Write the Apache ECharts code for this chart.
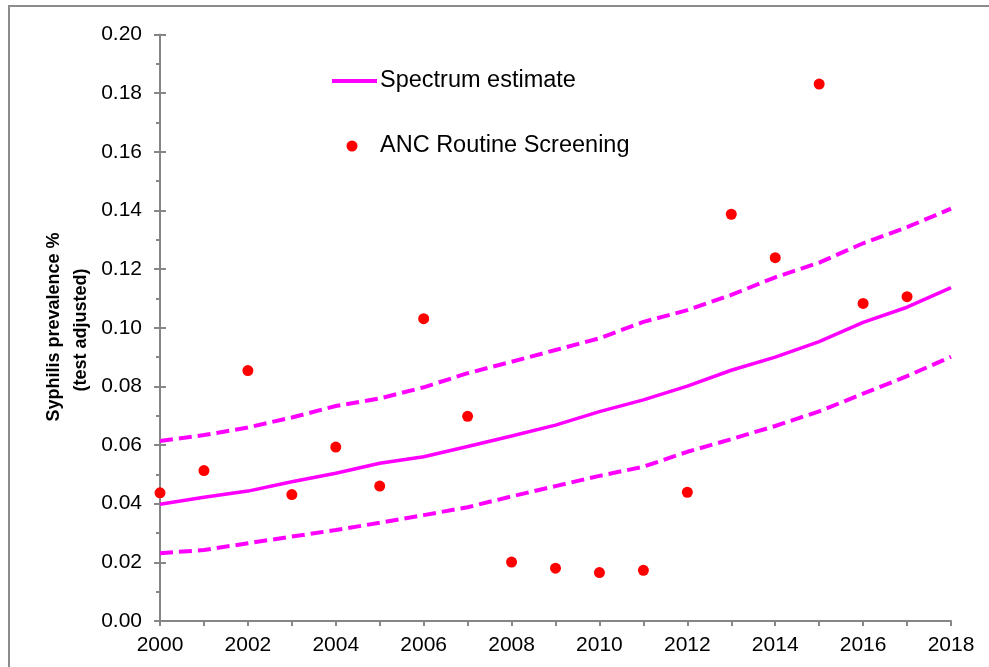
<!DOCTYPE html>
<html>
<head>
<meta charset="utf-8">
<script src="https://cdn.jsdelivr.net/npm/echarts@6/dist/echarts.min.js"></script>
<style>html,body{margin:0;padding:0;background:#fff}#c{width:989px;height:667px}</style>
</head>
<body>
<div id="c"></div>
<script>
// Data
const years = [2000,2001,2002,2003,2004,2005,2006,2007,2008,2009,2010,2011,2012,2013,2014,2015,2016,2017,2018];
const spectrumEstimate = [0.0398,0.0422,0.0443,0.0475,0.0504,0.0538,0.0560,0.0595,0.0631,0.0668,0.0714,0.0754,0.0801,0.0855,0.0900,0.0953,0.1018,0.1070,0.1137];
const upperBound = [0.0614,0.0634,0.0660,0.0694,0.0733,0.0759,0.0797,0.0845,0.0884,0.0924,0.0964,0.1020,0.1060,0.1112,0.1172,0.1222,0.1288,0.1343,0.1406];
const lowerBound = [0.0231,0.0242,0.0265,0.0288,0.0310,0.0335,0.0361,0.0388,0.0425,0.0460,0.0495,0.0526,0.0577,0.0620,0.0665,0.0715,0.0775,0.0835,0.0901];
const ancYears = [2000,2001,2002,2003,2004,2005,2006,2007,2008,2009,2010,2011,2012,2013,2014,2015,2016,2017];
const ancScreening = [0.0437,0.0513,0.0854,0.0431,0.0593,0.0460,0.1031,0.0698,0.0201,0.0180,0.0165,0.0173,0.0439,0.1387,0.1239,0.1831,0.1083,0.1106];
const legendLabels = ['Spectrum estimate','ANC Routine Screening'];
const yTitle = ['Syphilis prevalence %','(test adjusted)'];

const axisGray = '#868686';
const magenta = '#FF00FF';
const font = 'Liberation Sans, Arial, sans-serif';

const chart = echarts.init(document.getElementById('c'), null, {renderer:'canvas'});
const pair = (xs, ys) => xs.map((x,i)=>[x, ys[i]]);

chart.setOption({
  animation:false,
  backgroundColor:'#fff',
  grid:{left:160, right:38, top:34.5, bottom:46, containLabel:false},
  xAxis:{
    type:'value', min:2000, max:2018, interval:2,
    axisLine:{lineStyle:{color:axisGray, width:2}},
    axisTick:{show:true, length:5, lineStyle:{color:axisGray, width:2}},
    minorTick:{show:true, splitNumber:2, length:5, lineStyle:{color:axisGray, width:2}},
    splitLine:{show:false},
    axisLabel:{color:'#000', fontSize:21, fontFamily:font, margin:14, formatter:v=>String(v)}
  },
  yAxis:[{
    type:'value', min:0, max:0.2, interval:0.02, position:'left',
    axisLine:{show:true, lineStyle:{color:axisGray, width:2}},
    axisTick:{show:true, length:6, lineStyle:{color:axisGray, width:2}},
    minorTick:{show:true, splitNumber:2, length:4, lineStyle:{color:axisGray, width:2}},
    splitLine:{show:false},
    axisLabel:{color:'#000', fontSize:21, fontFamily:font, margin:18, formatter:v=>v.toFixed(2)}
  },{
    type:'value', min:0, max:0.2, interval:0.02, position:'left', offset:0,
    axisLine:{show:false},
    axisTick:{show:true, inside:true, length:6, lineStyle:{color:axisGray, width:2}},
    minorTick:{show:false},
    splitLine:{show:false},
    axisLabel:{show:false}
  }],
  series:[
    {name:'upper', type:'line', data:pair(years, upperBound), showSymbol:false, symbol:'none',
     lineStyle:{color:magenta, width:4, type:[13,6]}, z:2},
    {name:'lower', type:'line', data:pair(years, lowerBound), showSymbol:false, symbol:'none',
     lineStyle:{color:magenta, width:4, type:[13,6]}, z:2},
    {name:legendLabels[0], type:'line', data:pair(years, spectrumEstimate), showSymbol:false, symbol:'none',
     lineStyle:{color:magenta, width:3.5}, z:3},
    {name:legendLabels[1], type:'scatter', data:pair(ancYears, ancScreening), symbol:'circle', symbolSize:11,
     itemStyle:{color:'#FF0000', opacity:1}, z:4}
  ],
  graphic:[
    {type:'rect', shape:{x:9, y:6, width:1200, height:900}, style:{fill:null, stroke:'#8c8c8c', lineWidth:2}, z:0, silent:true},
    {type:'line', shape:{x1:332, y1:81, x2:377, y2:81}, style:{stroke:magenta, lineWidth:4}},
    {type:'text', x:380, y:81, style:{text:legendLabels[0], fontSize:23.5, fontFamily:font, fill:'#000', textVerticalAlign:'middle', textAlign:'left'}},
    {type:'circle', shape:{cx:352, cy:146, r:5.5}, style:{fill:'#FF0000'}},
    {type:'text', x:380, y:146, style:{text:legendLabels[1], fontSize:23.5, fontFamily:font, fill:'#000', textVerticalAlign:'middle', textAlign:'left'}},
    {type:'text', x:54, y:327, rotation:Math.PI/2, style:{text:yTitle[0], fontSize:18, fontWeight:'bold', fontFamily:font, fill:'#000', textAlign:'center', textVerticalAlign:'middle'}},
    {type:'text', x:81, y:330, rotation:Math.PI/2, style:{text:yTitle[1], fontSize:18, fontWeight:'bold', fontFamily:font, fill:'#000', textAlign:'center', textVerticalAlign:'middle'}}
  ]
});
</script>
</body>
</html>
